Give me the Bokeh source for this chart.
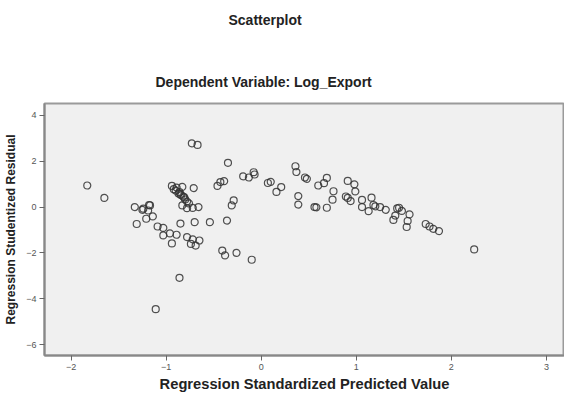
from bokeh.plotting import figure
from bokeh.models import Title, FixedTicker, Range1d, ColumnDataSource
from bokeh.embed import file_html
from bokeh.resources import INLINE

# Regression standardized predicted value (x) and studentized residual (y)
pred = [
    -1.83, -1.65, -1.33, -1.25, -1.18, -1.19, -1.14, -1.21, -1.31, -1.09,
    -1.03, -1.03, -0.96, -0.89, -0.94, -0.85, -0.70, -0.54, -0.36, -0.78,
    -0.72, -0.65, -0.69, -0.74, -0.41, -0.38, -0.26, -0.86, -1.11, -0.10,
    -0.94, -0.89, -0.83, -0.90, -0.87, -0.84, -0.81, -0.80, -0.78, -0.76,
    -0.83, -0.78, -0.72, -0.66, -0.71, -0.73, -0.67, -0.35, -0.43, -0.39,
    -0.46, -0.29, -0.31,
    -0.19, -0.13, -0.08, -0.07, 0.07, 0.10, 0.16, 0.21, 0.36, 0.37,
    0.46, 0.48, 0.39, 0.39, 0.56, 0.58, 0.69, 0.60, 0.66, 0.69,
    0.76, 0.75, 0.91, 0.98, 0.99, 0.89, 0.91, 0.94, 1.06, 1.16,
    1.06, 1.13, 1.18, 1.20, 1.25, 1.31, 1.45, 1.43, 1.48, 1.56,
    1.41, 1.39, 1.54, 1.53, 1.73, 1.77, 1.81, 1.87, 2.24,
    -1.24, -1.17, -0.92, -0.86, -0.85, -0.82,
]
resid = [
    0.94, 0.40, 0.00, -0.12, 0.09, -0.15, -0.41, -0.51, -0.74, -0.85,
    -0.91, -1.24, -1.15, -1.21, -1.59, -0.72, -0.66, -0.66, -0.59, -1.31,
    -1.41, -1.46, -1.68, -1.61, -1.90, -2.11, -2.00, -3.09, -4.46, -2.30,
    0.92, 0.85, 0.88, 0.72, 0.59, 0.51, 0.42, 0.33, 0.24, 0.16,
    0.07, -0.05, -0.04, 0.00, 0.83, 2.78, 2.71, 1.93, 1.09, 1.13,
    0.92, 0.29, 0.07,
    1.34, 1.29, 1.52, 1.42, 1.05, 1.10, 0.66, 0.87, 1.78, 1.53,
    1.29, 1.23, 0.48, 0.11, 0.00, -0.01, -0.03, 0.94, 1.04, 1.27,
    0.69, 0.32, 1.14, 0.99, 0.68, 0.46, 0.40, 0.26, 0.31, 0.41,
    0.00, -0.18, 0.09, 0.03, 0.00, -0.12, -0.03, -0.06, -0.17, -0.32,
    -0.37, -0.56, -0.61, -0.87, -0.74, -0.85, -0.95, -1.05, -1.85,
    -0.07, 0.07, 0.78, 0.65, 0.55, 0.46,
]

x_ticks = [-2, -1, 0, 1, 2, 3]
y_ticks = [-6, -4, -2, 0, 2, 4]

main_title = "Scatterplot"
sub_title = "Dependent Variable: Log_Export"
x_label = "Regression Standardized Predicted Value"
y_label = "Regression Studentized Residual"

FONT = "Liberation Sans"

p = figure(width=564, height=395, output_backend="svg", toolbar_location=None,
           x_range=Range1d(-2.28, 3.19), y_range=Range1d(-6.48, 4.52),
           min_border_left=44, min_border_right=0, min_border_top=103,
           min_border_bottom=40)

# outer (main) title, pushed up by bottom padding
p.title.text = main_title
p.title.align = "left"
p.title.offset = 184
p.title.text_font = FONT
p.title.text_font_size = "14px"
p.title.text_font_style = "bold"
p.title.text_color = "#222222"
p.title.standoff = 0
p.title.padding = dict(left=0, right=0, top=0, bottom=30)

# inner title (nearest the plot)
t2 = Title(text=sub_title, align="left", offset=111, text_font=FONT,
           text_font_size="14px", text_font_style="bold", text_color="#222222",
           standoff=28)
p.add_layout(t2, "above")

p.background_fill_color = "#f0f0f0"
p.border_fill_color = "white"
p.outline_line_color = "#9a9a9a"
p.outline_line_width = 2
p.grid.visible = False

src = ColumnDataSource(data=dict(x=pred, y=resid))
p.scatter("x", "y", source=src, size=7, fill_color=None,
          line_color="#333333", line_width=1.2, line_alpha=0.85)

for ax, ticks, lab in ((p.xaxis[0], x_ticks, x_label), (p.yaxis[0], y_ticks, y_label)):
    ax.ticker = FixedTicker(ticks=ticks)
    ax.minor_tick_line_color = None
    ax.major_tick_in = 0
    ax.major_tick_out = 5
    ax.major_tick_line_color = "#666666"
    ax.axis_line_color = "#888888"
    ax.axis_line_width = 2
    ax.major_label_text_font = FONT
    ax.major_label_text_font_size = "9px"
    ax.major_label_text_color = "#555555"
    ax.major_label_standoff = 3
    ax.axis_label = lab
    ax.axis_label_text_font = FONT
    ax.axis_label_text_font_style = "bold"
    ax.axis_label_text_color = "#222222"
    ax.axis_label_standoff = 5

p.xaxis.axis_label_text_font_size = "14.7px"
p.xaxis.axis_label_standoff = 3
p.yaxis.axis_label_text_font_size = "12px"

open("out.html", "w").write(file_html(p, INLINE))
